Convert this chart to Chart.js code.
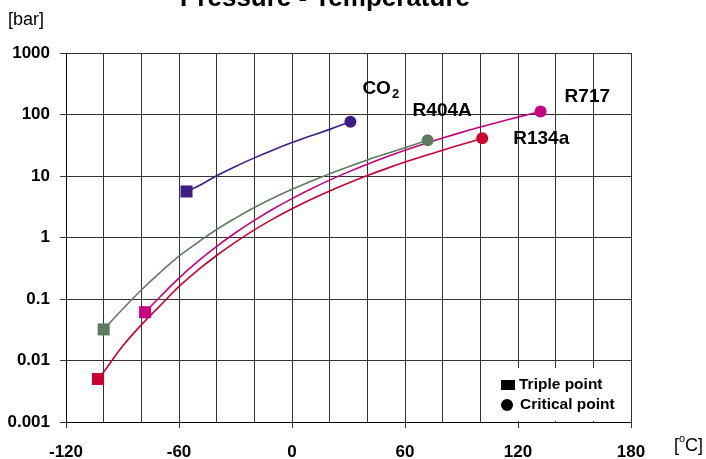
<!DOCTYPE html>
<html>
<head>
<meta charset="utf-8">
<script src="https://cdn.jsdelivr.net/npm/chart.js@4/dist/chart.umd.min.js"></script>
<style>
  html, body { margin: 0; padding: 0; background: #fff; }
  #wrap { width: 706px; height: 459px; position: relative; }
</style>
</head>
<body>
<div id="wrap"><canvas id="ptChart"></canvas></div>
<script>
// Vapour pressure curves (temperature in degC, pressure in bar)
const co2Temp = [-56, -50, -40, -30, -20, -10, 0, 10, 20, 31];
const co2Pres = [5.6, 6.8, 10.1, 14.3, 19.7, 26.5, 34.9, 45.0, 57.3, 76];

const r404aTemp = [-100, -90, -80, -70, -60, -50, -40, -30, -20, -10, 0, 10, 20, 30, 40, 50, 60, 72];
const r404aPres = [0.032, 0.068, 0.14, 0.27, 0.50, 0.83, 1.35, 2.07, 3.07, 4.38, 6.08, 8.2, 10.9, 14.2, 18.2, 23.0, 28.8, 38];

const r717Temp = [-78, -70, -60, -50, -40, -30, -20, -10, 0, 10, 20, 30, 40, 50, 60, 70, 80, 90, 100, 110, 120, 132];
const r717Pres = [0.061, 0.109, 0.219, 0.408, 0.717, 1.195, 1.90, 2.91, 4.29, 6.15, 8.57, 11.67, 15.55, 20.33, 26.15, 33.1, 41.4, 51.2, 62.5, 75.6, 90.6, 112];

const r134aTemp = [-103, -100, -90, -80, -70, -60, -50, -40, -30, -20, -10, 0, 10, 20, 30, 40, 50, 60, 70, 80, 90, 101];
const r134aPres = [0.005, 0.0065, 0.017, 0.038, 0.078, 0.16, 0.295, 0.51, 0.84, 1.33, 2.01, 2.93, 4.15, 5.72, 7.70, 10.17, 13.18, 16.82, 21.17, 26.33, 32.44, 41];

const yTicks = [0.001, 0.01, 0.1, 1, 10, 100, 1000];
const xLabelStep = 60;

function pts(t, p) {
  return t.map((v, i) => ({ x: v, y: p[i] }));
}

// square at the triple point (first), circle at the critical point (last)
function makeSet(name, t, p, color) {
  const n = t.length;
  return {
    label: name,
    data: pts(t, p),
    borderColor: color,
    backgroundColor: color,
    borderWidth: 1.6,
    tension: 0.4,
    pointRadius: (ctx) => ctx.dataIndex === 0 ? 8.5 : (ctx.dataIndex === n - 1 ? 6 : 0),
    pointStyle: (ctx) => ctx.dataIndex === 0 ? "rect" : "circle",
    pointBorderWidth: 0,
    pointHoverRadius: 0,
  };
}

const datasets = [
  makeSet("CO2", co2Temp, co2Pres, "#3d1d84"),
  makeSet("R404A", r404aTemp, r404aPres, "#5e7b5e"),
  makeSet("R717", r717Temp, r717Pres, "#c6007f"),
  makeSet("R134a", r134aTemp, r134aPres, "#cc0030"),
];

// label offsets from each critical point
const labelOffsets = [[12, -33], [-15, -30], [24, -15], [31, 0]];

const decorations = {
  id: "decorations",
  afterDraw(chart) {
    const c = chart.ctx;
    const xs = chart.scales.x, ys = chart.scales.y;
    c.save();
    c.fillStyle = "#000";
    c.textBaseline = "alphabetic";

    // title, cut at the top edge
    c.font = "bold 26px Arial, 'Liberation Sans', sans-serif";
    c.textAlign = "center";
    c.fillText("Pressure - Temperature", 325, 6);

    // unit labels
    c.textAlign = "left";
    c.font = "18px Arial, 'Liberation Sans', sans-serif";
    c.fillText("[bar]", 8, 25);
    c.fillText("[", 674, 451);
    let w = c.measureText("[").width;
    c.font = "11px Arial, 'Liberation Sans', sans-serif";
    c.fillText("o", 674 + w, 442);
    let w2 = c.measureText("o").width;
    c.font = "18px Arial, 'Liberation Sans', sans-serif";
    c.fillText("C]", 674 + w + w2, 451);

    // series labels next to the critical points
    c.textBaseline = "middle";
    chart.data.datasets.forEach((ds, i) => {
      const last = ds.data[ds.data.length - 1];
      const px = xs.getPixelForValue(last.x) + labelOffsets[i][0];
      const py = ys.getPixelForValue(last.y) + labelOffsets[i][1];
      c.font = "bold 19px Arial, 'Liberation Sans', sans-serif";
      if (ds.label === "CO2") {
        c.fillText("CO", px, py);
        const cw = c.measureText("CO").width;
        c.font = "bold 13px Arial, 'Liberation Sans', sans-serif";
        c.fillText("2", px + cw + 1, py + 6);
      } else {
        c.fillText(ds.label, px, py);
      }
    });

    // legend box
    c.fillStyle = "#fff";
    c.fillRect(493, 368, 137, 53);
    c.fillStyle = "#000";
    c.fillRect(501, 380, 14, 10);
    c.beginPath();
    c.arc(507, 405, 6, 0, Math.PI * 2);
    c.fill();
    c.font = "bold 15.5px Arial, 'Liberation Sans', sans-serif";
    c.fillText("Triple point", 519, 385);
    c.fillText("Critical point", 520, 405);
    c.restore();
  },
};

new Chart(document.getElementById("ptChart").getContext("2d"), {
  type: "line",
  data: { datasets: datasets },
  plugins: [decorations],
  options: {
    responsive: true,
    maintainAspectRatio: false,
    animation: false,
    layout: { padding: { top: 53, right: 75, left: 0, bottom: 0 } },
    plugins: {
      legend: { display: false },
      title: { display: false },
      tooltip: { enabled: false },
    },
    scales: {
      x: {
        type: "linear",
        min: -120,
        max: 180,
        afterFit: (axis) => { axis.height = 37; },
        ticks: {
          stepSize: 20,
          padding: 14,
          color: "#000",
          maxRotation: 0,
          autoSkip: false,
          font: { family: "Arial, 'Liberation Sans', sans-serif", size: 17, weight: "bold" },
          callback: (v) => (v % xLabelStep === 0 ? String(v) : ""),
        },
        grid: {
          color: "#333",
          tickLength: 6,
          tickColor: (ctx) => (ctx.tick && ctx.tick.value % xLabelStep === 0 ? "#333" : "rgba(0,0,0,0)"),
        },
        border: { color: "#000" },
      },
      y: {
        type: "logarithmic",
        min: 0.001,
        max: 1000,
        afterBuildTicks: (axis) => { axis.ticks = yTicks.map((v) => ({ value: v })); },
        afterFit: (axis) => { axis.width = 66; },
        ticks: {
          padding: 10,
          color: "#000",
          font: { family: "Arial, 'Liberation Sans', sans-serif", size: 17, weight: "bold" },
          callback: (v) => String(v),
        },
        grid: { color: "#333", tickLength: 6, tickColor: "#333" },
        border: { color: "#000" },
      },
    },
  },
});
</script>
</body>
</html>
